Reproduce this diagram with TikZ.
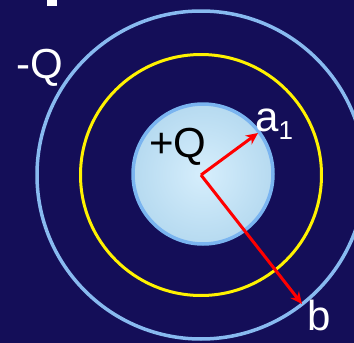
\documentclass[tikz,border=0pt]{standalone}
\usepackage{fontspec}
\setmainfont{Liberation Sans}
\usetikzlibrary{arrows.meta}

\definecolor{nacht}{RGB}{20,14,88}
\definecolor{hellblau}{RGB}{136,186,240}
\definecolor{kernrand}{RGB}{122,180,240}
\definecolor{kerninnen}{RGB}{214,238,252}
\definecolor{kernaussen}{RGB}{182,218,240}

\tikzset{
  shell/.style={circle, draw, inner sep=0pt},
  label/.style={text=white, inner sep=0pt},
  radius/.style={-{Stealth[length=12pt, width=11pt]}, red, line width=3pt},
}

\begin{document}
\begin{tikzpicture}[x=1pt, y=1pt]
  % Hintergrund
  \fill[nacht] (0,0) rectangle (354,-343);
  \useasboundingbox (0,0) rectangle (354,-343);
  \clip (0,0) rectangle (354,-343);
  \fill[white] (47,0) rectangle (57,-6);

  \coordinate (mitte) at (201,-175);

  % Kugelschalen
  \node[shell, draw=hellblau, line width=3.5pt, minimum size=328pt] (aussen) at (mitte) {};
  \node[shell, draw=yellow, line width=3pt, minimum size=241pt] (gauss) at (mitte) {};
  \node[shell, draw=kernrand, line width=3.5pt, minimum size=140pt,
        inner color=kerninnen, outer color=kernaussen] (kern) at (203,-174) {};

  % Radien
  \coordinate (atip) at (258,-133);
  \coordinate (btip) at (302,-304);
  \draw[radius] (mitte) -- (atip);
  \draw[radius] (mitte) -- (btip);

  % Beschriftungen
  \node[label, anchor=base] (minusq) at (40,-78) {\fontsize{42}{42}\selectfont -Q};
  \node[label, anchor=base, text=black] (plusq) at (178,-157) {\fontsize{42}{42}\selectfont +Q};
  \node[label, anchor=base west] (alabel) at (255,-131) {\fontsize{42}{42}\selectfont a\fontsize{26}{26}\selectfont\raisebox{-8pt}{1}};
  \node[label, anchor=base] (blabel) at (319,-330) {\fontsize{42}{42}\selectfont b};
\end{tikzpicture}
\end{document}
